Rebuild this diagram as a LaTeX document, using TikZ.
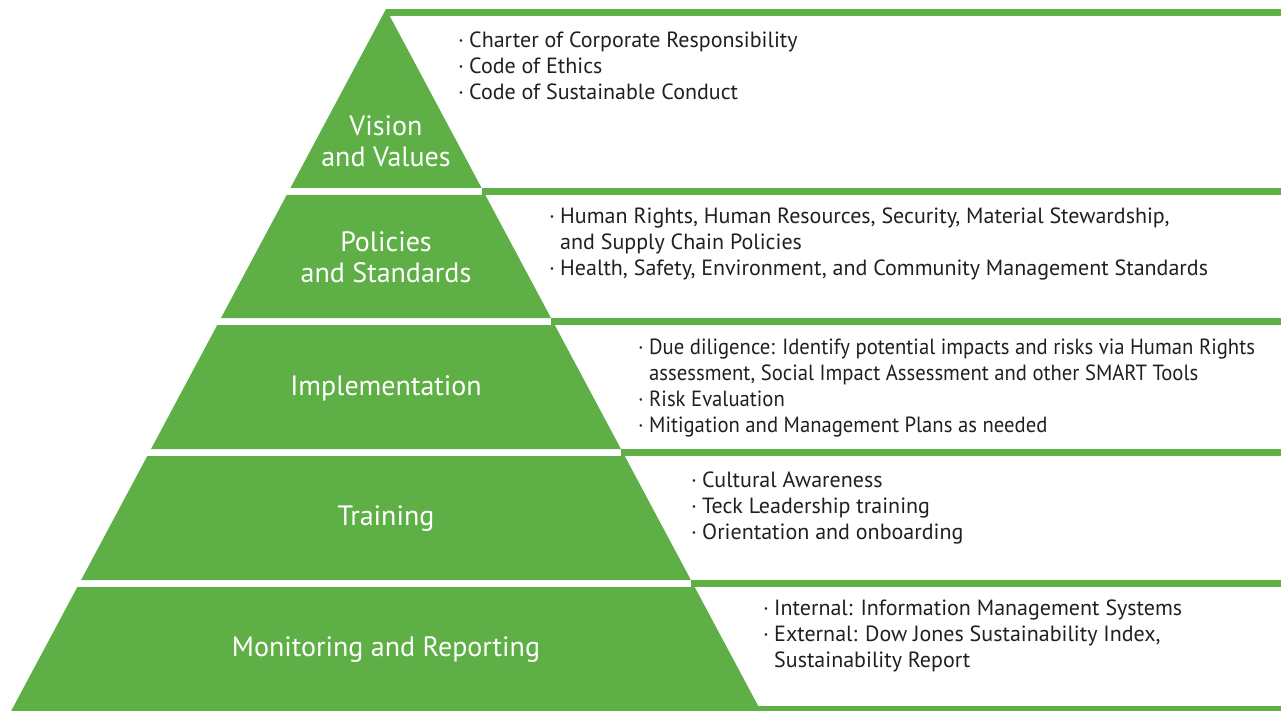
\documentclass[tikz,border=0pt]{standalone}
\usepackage{fontspec}
\setmainfont{PT Sans}
\usetikzlibrary{positioning}
\definecolor{teckgreen}{RGB}{94, 176, 70}
\definecolor{mytext}{RGB}{35, 31, 32}
\tikzset{
  tier/.style = {fill = teckgreen},
  tierlabel/.style = {text = white, align = center, inner sep = 0pt, font = \fontsize{28}{31}\selectfont},
  itemlist/.style = {text = mytext, align = left, anchor = north west, inner sep = 0pt, font = \fontsize{22}{26}\selectfont}
}
\newcommand{\bul}{\makebox[11pt][l]{\textperiodcentered}}
\newcommand{\hang}{\hspace*{11pt}}

\begin{document}
\begin{tikzpicture}[x = 1pt, y = -1pt]
\useasboundingbox (0,0) rectangle (1281,711);
% pyramid tiers (top/bottom in px)
\foreach \t/\b in {9/188, 195/318, 325/449, 456/580, 587/711}
  \fill[tier] ({386-0.534*(\t-9)},\t) -- ({386+0.534*(\t-9)},\t) -- ({386+0.534*(\b-9)},\b) -- ({386-0.534*(\b-9)},\b) -- cycle;
% rules to the right
\foreach \t/\b in {9/16, 188/195, 318/325, 449/456, 580/587, 706/711}
  \fill[tier] ({386+0.534*(\t-9)},\t) rectangle (1281,\b);

\node[tierlabel] (vision) at (386, 141.5) {Vision\\and Values};
\node[tierlabel] (policies) at (386, 257) {Policies\\and Standards};
\node[tierlabel, anchor = base] (impl) at (386, 395) {Implementation};
\node[tierlabel, anchor = base] (training) at (386, 525) {Training};
\node[tierlabel, anchor = base] (monitoring) at (386, 656) {Monitoring and Reporting};

\node[itemlist] (visionlist) at (458, 32) {\bul Charter of Corporate Responsibility\\ \bul Code of Ethics\\ \bul Code of Sustainable Conduct};
\node[itemlist] (policylist) at (549, 208) {\bul Human Rights, Human Resources, Security, Material Stewardship,\\ \hang and Supply Chain Policies\\ \bul Health, Safety, Environment, and Community Management Standards};
\node[itemlist, font = \fontsize{22}{26}\selectfont\addfontfeature{FakeStretch=0.94}] (impllist) at (638, 339) {\bul Due diligence: Identify potential impacts and risks via Human Rights\\ \hang assessment, Social Impact Assessment and other SMART Tools\\ \bul Risk Evaluation\\ \bul Mitigation and Management Plans as needed};
\node[itemlist] (traininglist) at (691, 472) {\bul Cultural Awareness\\ \bul Teck Leadership training\\ \bul Orientation and onboarding};
\node[itemlist] (monitorlist) at (763, 600) {\bul Internal: Information Management Systems\\ \bul External: Dow Jones Sustainability Index,\\ \hang Sustainability Report};
\end{tikzpicture}
\end{document}
